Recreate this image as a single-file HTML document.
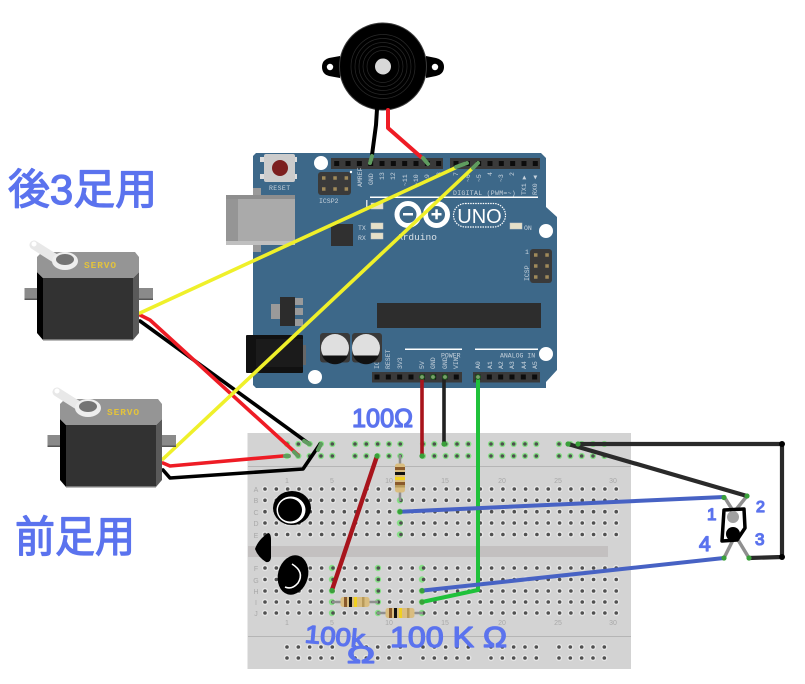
<!DOCTYPE html>
<html><head><meta charset="utf-8"><style>
html,body{margin:0;padding:0;background:#fff;width:805px;height:684px;overflow:hidden}
svg{display:block}
.m{font-family:"Liberation Mono",monospace;font-size:6.5px;fill:#c8d3dd}
.h{font-family:"Liberation Sans","WenQuanYi Zen Hei","Noto Sans CJK JP",sans-serif;fill:#5b73ee;stroke:#5b73ee;stroke-width:1.3;stroke-linejoin:round}
.b{font-family:"Liberation Sans",sans-serif;font-size:7px;fill:#a8a8a8}
</style></head><body>
<svg width="805" height="684" viewBox="0 0 805 684" xmlns="http://www.w3.org/2000/svg" fill="none">
<defs>
<g id="servo">
<rect x="24.5" y="288" width="128.5" height="12" fill="#8a8a8a"/><rect x="24.5" y="298.5" width="128.5" height="1.5" fill="#555"/>
<polygon points="37,272 43,278 43,340 37,333" fill="#000"/>
<polygon points="133,278 139,272 139,333 133,340" fill="#5a5a5a"/>
<rect x="43" y="278" width="90" height="62" fill="#323232"/><rect x="43" y="339" width="90" height="1.5" fill="#777"/>
<polygon points="37,257 42,252 135,252 139,257 139,272 133,278 43,278 37,272" fill="#959595"/>
<path d="M34,245 L64,264" stroke="#e8e8e8" stroke-width="9" stroke-linecap="round"/>
<circle cx="34" cy="244" r="2.5" fill="#fff"/>
<ellipse cx="65" cy="261" rx="13" ry="9" fill="#eee"/>
<ellipse cx="65" cy="259.5" rx="9" ry="5.5" fill="#747474"/>
<text x="84" y="268" font-family="Liberation Mono,monospace" font-weight="700" font-size="9.5" letter-spacing="0.9" fill="#e3c33c">SERVO</text>
</g>
<g id="res">
<line x1="-23" y1="0" x2="23" y2="0" stroke="#8f8f8f" stroke-width="2.5"/>
<rect x="-14.5" y="-5" width="29" height="10" rx="2.5" fill="#d9bd80"/>
<rect x="-11" y="-5" width="3" height="10" fill="#8a5a2b"/><rect x="-6" y="-5" width="3" height="10" fill="#111"/>
<rect x="-1" y="-5" width="3" height="10" fill="#f0d020"/><rect x="7" y="-5" width="2.5" height="10" fill="#b89a5a"/>
</g>
</defs>

<!-- buzzer -->
<path d="M340,56 L329,58 Q322,60 322,67 Q322,74 329,76 L340,78 Z" fill="#000"/>
<path d="M426,56 L436,58 Q444,60 444,67 Q444,74 436,76 L426,78 Z" fill="#000"/>
<circle cx="330" cy="67" r="3.2" fill="#fff"/><circle cx="435" cy="67" r="3.2" fill="#fff"/>
<circle cx="383" cy="66.5" r="43.5" fill="#000" stroke="#3a3a3a" stroke-width="1"/>
<g stroke="#2a2a2a" stroke-width="0.7"><circle cx="383" cy="66.5" r="16"/><circle cx="383" cy="66.5" r="20"/><circle cx="383" cy="66.5" r="24"/><circle cx="383" cy="66.5" r="28"/><circle cx="383" cy="66.5" r="32"/></g>
<circle cx="383" cy="66.5" r="8" fill="#d8d8d8"/>

<!-- arduino -->
<polygon points="256,153 541,153 546,158 546,207 557,217 557,370 546,382 546,388 256,388 253,385 253,156" fill="#3d6889"/>
<rect x="253" y="188" width="8" height="8" fill="#9a9a9a"/><rect x="253" y="244" width="8" height="8" fill="#9a9a9a"/>
<rect x="226" y="195" width="69" height="50" fill="#aaa"/><rect x="226" y="195" width="12" height="50" fill="#959595"/><rect x="226" y="195" width="69" height="4" fill="#8e8e8e"/><rect x="226" y="241" width="69" height="4" fill="#c0c0c0"/>
<rect x="260" y="157" width="37" height="5" fill="#ddd"/><rect x="260" y="174" width="37" height="5" fill="#ddd"/>
<rect x="264" y="154" width="31" height="28" rx="2" fill="#ccc"/>
<circle cx="280" cy="168" r="8" fill="#7c1f1f"/>
<text x="269" y="190" class="m" letter-spacing=".4">RESET</text>
<circle cx="321" cy="163" r="7" fill="#fff"/><circle cx="546" cy="231" r="7" fill="#fff"/><circle cx="315" cy="377" r="7" fill="#fff"/><circle cx="546" cy="354" r="7" fill="#fff"/>

<!-- headers -->
<rect x="331" y="158" width="112" height="11" fill="#3a3a3a"/><rect x="450" y="158" width="90" height="11" fill="#3a3a3a"/>
<rect x="372" y="372" width="90" height="10.5" fill="#3a3a3a"/><rect x="473" y="372" width="67" height="10.5" fill="#3a3a3a"/>
<g stroke="#0c0c0c" stroke-width="5" stroke-dasharray="5 6.33">
<line x1="334.2" y1="163.5" x2="442" y2="163.5"/><line x1="453.5" y1="163.5" x2="538" y2="163.5"/>
<line x1="374.5" y1="377" x2="460" y2="377"/><line x1="475.5" y1="377" x2="538" y2="377"/>
</g>
<!-- ICSP -->
<rect x="318" y="172" width="33" height="23" rx="3" fill="#3a3a3a"/>
<g stroke="#a08a5a" stroke-width="3.5" stroke-dasharray="3.5 7.8"><line x1="322" y1="178" x2="350" y2="178"/><line x1="322" y1="189" x2="350" y2="189"/></g>
<circle cx="351" cy="172" r="1.2" fill="#fff"/>
<text x="319" y="203" class="m" font-size="7">ICSP2</text>
<rect x="530" y="249" width="22" height="34" rx="3" fill="#3a3a3a"/>
<g stroke="#a08a5a" stroke-width="3.5" stroke-dasharray="3.5 7.8"><line x1="534" y1="255" x2="550" y2="255"/><line x1="534" y1="266" x2="550" y2="266"/><line x1="534" y1="277" x2="550" y2="277"/></g>
<text x="525" y="254" class="m">1</text>
<text transform="translate(529,281) rotate(-90)" class="m">ICSP</text>

<!-- top labels -->
<g class="m" text-anchor="start">
<text transform="translate(362,187) rotate(-90)">AMREF</text>
<text transform="translate(373,185) rotate(-90)">GND</text>
<text transform="translate(384,180) rotate(-90)">13</text>
<text transform="translate(395,180) rotate(-90)">12</text>
<text transform="translate(407,186) rotate(-90)">~11</text>
<text transform="translate(418,186) rotate(-90)">~10</text>
<text transform="translate(429,182) rotate(-90)">~9</text>
<text transform="translate(441,176) rotate(-90)">8</text>
<text transform="translate(458,176) rotate(-90)">7</text>
<text transform="translate(470,182) rotate(-90)">~6</text>
<text transform="translate(481,182) rotate(-90)">~5</text>
<text transform="translate(492,176) rotate(-90)">4</text>
<text transform="translate(503,182) rotate(-90)">~3</text>
<text transform="translate(514,176) rotate(-90)">2</text>
<text transform="translate(526,195) rotate(-90)">TX1 ▶</text>
<text transform="translate(537,195) rotate(-90)">RX0 ◀</text>
<text transform="translate(390,369) rotate(-90)">RESET</text>
<text transform="translate(379,369) rotate(-90)">IOREF</text>
<text transform="translate(402,369) rotate(-90)">3V3</text>
<text transform="translate(424,369) rotate(-90)">5V</text>
<text transform="translate(435,369) rotate(-90)">GND</text>
<text transform="translate(447,369) rotate(-90)">GND</text>
<text transform="translate(458,369) rotate(-90)">VIN</text>
<text transform="translate(480,369) rotate(-90)">A0</text>
<text transform="translate(492,369) rotate(-90)">A1</text>
<text transform="translate(503,369) rotate(-90)">A2</text>
<text transform="translate(514,369) rotate(-90)">A3</text>
<text transform="translate(526,369) rotate(-90)">A4</text>
<text transform="translate(537,369) rotate(-90)">A5</text>
</g>
<text x="453" y="195" class="m" letter-spacing=".3">DIGITAL (PWM=~)</text>
<rect x="370" y="196.5" width="168" height="1.5" fill="#fff"/>
<rect x="405" y="348.5" width="57" height="1.5" fill="#fff"/><rect x="475" y="348.5" width="63" height="1.5" fill="#fff"/>
<text x="441" y="357.5" class="m" font-size="7">POWER</text>
<text x="500" y="357.5" class="m" font-size="7">ANALOG IN</text>

<!-- leds -->
<rect x="366" y="200" width="1.5" height="8" fill="#d5dde3"/>
<rect x="371" y="203" width="12" height="6" fill="#e6e0c8" stroke="#c9c9c9" stroke-width=".5"/>
<rect x="371" y="223" width="12" height="6" fill="#e6e0c8" stroke="#c9c9c9" stroke-width=".5"/>
<rect x="371" y="233" width="12" height="6" fill="#e6e0c8" stroke="#c9c9c9" stroke-width=".5"/>
<rect x="510" y="223" width="12" height="6" fill="#e6e0c8" stroke="#c9c9c9" stroke-width=".5"/>
<text x="358" y="230" class="m" font-size="7.5">TX</text><text x="358" y="240" class="m" font-size="7.5">RX</text>
<text x="524" y="230" class="m" font-size="7.5">ON</text>
<!-- logo -->
<g stroke="#fff" stroke-width="5"><circle cx="408" cy="214.5" r="11"/><circle cx="436.5" cy="214.5" r="11"/></g>
<rect x="403" y="213" width="10" height="2.5" fill="#fff"/><rect x="431.5" y="213" width="10" height="2.5" fill="#fff"/><rect x="435.3" y="209.3" width="2.5" height="10" fill="#fff"/>
<rect x="453.5" y="203.5" width="52" height="23.5" rx="11.7" stroke="#fff" stroke-width="1.2" stroke-dasharray="1.5 1"/>
<text x="479.5" y="223" text-anchor="middle" font-family="Liberation Sans,sans-serif" font-size="20" fill="#fff">UNO</text>
<text x="397" y="240" font-family="Liberation Mono,monospace" font-size="9.5" fill="#d8e0e6">Arduino</text>
<!-- parts -->
<rect x="331" y="224" width="22" height="22" fill="#303030"/>
<rect x="295" y="298" width="8" height="7" fill="#9a9a9a"/><rect x="295" y="308" width="8" height="7" fill="#9a9a9a"/><rect x="295" y="319" width="8" height="7" fill="#9a9a9a"/>
<rect x="271" y="304" width="10" height="15" fill="#9a9a9a"/>
<rect x="280" y="297" width="15" height="29" fill="#2c2c2c"/>
<rect x="377" y="303" width="164" height="25" fill="#2d2d2d"/>
<rect x="246" y="335" width="57" height="38" rx="1" fill="#111"/><rect x="256" y="339" width="47" height="28" fill="#1b1b1b"/><rect x="303" y="345" width="3" height="20" fill="#666"/>
<rect x="320" y="333" width="30" height="29.5" rx="3" fill="#3a3a3a"/><rect x="352" y="333" width="30" height="29.5" rx="3" fill="#3a3a3a"/>
<circle cx="335" cy="348" r="14" fill="#dfdfdf"/><circle cx="366" cy="348" r="14" fill="#dfdfdf"/>
<path d="M322,355.5 A14,14 0 0 0 348,355.5 Z" fill="#111"/><path d="M353,355.5 A14,14 0 0 0 379,355.5 Z" fill="#111"/>

<!-- breadboard -->
<rect x="247.5" y="433" width="383.5" height="236" fill="#d3d3d3"/>
<rect x="248" y="466" width="383" height="1" fill="#b5b5b5"/>
<rect x="248" y="636" width="383" height="1" fill="#b5b5b5"/>
<rect x="248" y="546" width="360" height="11" fill="#c3c0c0"/>
<g stroke-linecap="round" stroke-dasharray="0 11.33">
<g stroke="#86df86" stroke-width="6.2">
<line x1="287" y1="444" x2="333" y2="444"/><line x1="355" y1="444" x2="401" y2="444"/><line x1="423" y1="444" x2="469" y2="444"/><line x1="491" y1="444" x2="537" y2="444"/><line x1="559" y1="444" x2="605" y2="444"/>
<line x1="287" y1="456" x2="333" y2="456"/><line x1="355" y1="456" x2="401" y2="456"/><line x1="423" y1="456" x2="469" y2="456"/><line x1="491" y1="456" x2="537" y2="456"/><line x1="559" y1="456" x2="605" y2="456"/>
</g>
<g stroke="#e6e6e6" stroke-width="6.2">
<line x1="265" y1="489" x2="617" y2="489"/><line x1="265" y1="500.3" x2="617" y2="500.3"/><line x1="265" y1="511.7" x2="617" y2="511.7"/><line x1="265" y1="523" x2="617" y2="523"/><line x1="265" y1="534.5" x2="617" y2="534.5"/>
<line x1="265" y1="568" x2="617" y2="568"/><line x1="265" y1="579.5" x2="617" y2="579.5"/><line x1="265" y1="591" x2="617" y2="591"/><line x1="265" y1="602" x2="617" y2="602"/><line x1="265" y1="613" x2="617" y2="613"/>
<line x1="287" y1="647" x2="333" y2="647"/><line x1="355" y1="647" x2="401" y2="647"/><line x1="423" y1="647" x2="469" y2="647"/><line x1="491" y1="647" x2="537" y2="647"/><line x1="559" y1="647" x2="605" y2="647"/>
<line x1="287" y1="658" x2="333" y2="658"/><line x1="355" y1="658" x2="401" y2="658"/><line x1="423" y1="658" x2="469" y2="658"/><line x1="491" y1="658" x2="537" y2="658"/><line x1="559" y1="658" x2="605" y2="658"/>
</g>
</g>
<g fill="#86df86">
<circle cx="400" cy="489" r="3.2"/><circle cx="400" cy="500.3" r="3.2"/><circle cx="400" cy="511.7" r="3.2"/><circle cx="400" cy="523" r="3.2"/><circle cx="400" cy="534.5" r="3.2"/>
<circle cx="332" cy="568" r="3.2"/><circle cx="332" cy="579.5" r="3.2"/><circle cx="332" cy="591" r="3.2"/><circle cx="332" cy="602" r="3.2"/><circle cx="332" cy="613" r="3.2"/>
<circle cx="378" cy="568" r="3.2"/><circle cx="378" cy="579.5" r="3.2"/><circle cx="378" cy="591" r="3.2"/><circle cx="378" cy="602" r="3.2"/><circle cx="378" cy="613" r="3.2"/>
<circle cx="422" cy="568" r="3.2"/><circle cx="422" cy="579.5" r="3.2"/><circle cx="422" cy="591" r="3.2"/><circle cx="422" cy="602" r="3.2"/><circle cx="422" cy="613" r="3.2"/>
</g>
<g stroke-linecap="round" stroke-dasharray="0 11.33" stroke="#505050" stroke-width="3.6">
<line x1="287" y1="444" x2="333" y2="444"/><line x1="355" y1="444" x2="401" y2="444"/><line x1="423" y1="444" x2="469" y2="444"/><line x1="491" y1="444" x2="537" y2="444"/><line x1="559" y1="444" x2="605" y2="444"/>
<line x1="287" y1="456" x2="333" y2="456"/><line x1="355" y1="456" x2="401" y2="456"/><line x1="423" y1="456" x2="469" y2="456"/><line x1="491" y1="456" x2="537" y2="456"/><line x1="559" y1="456" x2="605" y2="456"/>
<line x1="265" y1="489" x2="617" y2="489"/><line x1="265" y1="500.3" x2="617" y2="500.3"/><line x1="265" y1="511.7" x2="617" y2="511.7"/><line x1="265" y1="523" x2="617" y2="523"/><line x1="265" y1="534.5" x2="617" y2="534.5"/>
<line x1="265" y1="568" x2="617" y2="568"/><line x1="265" y1="579.5" x2="617" y2="579.5"/><line x1="265" y1="591" x2="617" y2="591"/><line x1="265" y1="602" x2="617" y2="602"/><line x1="265" y1="613" x2="617" y2="613"/>
<line x1="287" y1="647" x2="333" y2="647"/><line x1="355" y1="647" x2="401" y2="647"/><line x1="423" y1="647" x2="469" y2="647"/><line x1="491" y1="647" x2="537" y2="647"/><line x1="559" y1="647" x2="605" y2="647"/>
<line x1="287" y1="658" x2="333" y2="658"/><line x1="355" y1="658" x2="401" y2="658"/><line x1="423" y1="658" x2="469" y2="658"/><line x1="491" y1="658" x2="537" y2="658"/><line x1="559" y1="658" x2="605" y2="658"/>
</g>
<g class="b" text-anchor="middle">
<text x="287" y="483">1</text><text x="332" y="483">5</text><text x="389" y="483">10</text><text x="445" y="483">15</text><text x="502" y="483">20</text><text x="558" y="483">25</text><text x="613" y="483">30</text>
<text x="287" y="625">1</text><text x="332" y="625">5</text><text x="389" y="625">10</text><text x="445" y="625">15</text><text x="502" y="625">20</text><text x="558" y="625">25</text><text x="613" y="625">30</text>
<text x="256" y="492">A</text><text x="256" y="503">B</text><text x="256" y="515">C</text><text x="256" y="526">D</text><text x="256" y="538">E</text>
<text x="256" y="571">F</text><text x="256" y="583">G</text><text x="256" y="594">H</text><text x="256" y="605">I</text><text x="256" y="616">J</text>
</g>

<!-- resistors -->
<g transform="translate(400,478) rotate(-90) scale(-1,1)"><use href="#res"/></g>
<rect x="395" y="482" width="10" height="3" fill="#8a5a2b"/>
<use href="#res" transform="translate(355,602)"/>
<use href="#res" transform="translate(400,613)"/>

<!-- photo interrupter -->
<g stroke="#8f8f8f" stroke-width="3.5"><line x1="725" y1="498" x2="740" y2="522"/><line x1="747" y1="496" x2="726" y2="522"/><line x1="749" y1="558" x2="732" y2="530"/><line x1="724" y1="558" x2="738" y2="530"/></g>
<polygon points="724,510 744,509 745,528 737,540 722,541" fill="#fff" stroke="#000" stroke-width="3.5" stroke-linejoin="round"/>
<circle cx="733" cy="517" r="6" fill="#a0a0a0"/>
<circle cx="733" cy="534" r="7" fill="#000"/>

<!-- wires -->
<g stroke-linecap="round" stroke-linejoin="round">
<path d="M377,109 L376,125 L372,155" stroke="#000" stroke-width="4"/>
<path d="M388,110 L388,128 L421,157" stroke="#ee1c25" stroke-width="4"/>
<path d="M422,378 V456" stroke="#a8141c" stroke-width="3.6"/>
<path d="M444,378 V444" stroke="#222" stroke-width="3.6"/>
<path d="M478,378 V590 L422,602" stroke="#1fc13a" stroke-width="4"/>
<path d="M377,456 L332,590" stroke="#a8141c" stroke-width="4.4"/>
<path d="M400,511.7 L724,497" stroke="#4762c4" stroke-width="4"/>
<path d="M422,590.6 L724,558" stroke="#4762c4" stroke-width="4"/>
<path d="M568,444 L747,496" stroke="#2a2a2a" stroke-width="4.2"/>
<path d="M578,444 H782 V557 L749,558" stroke="#2a2a2a" stroke-width="4.2"/>
<path d="M140,321 L308,443" stroke="#000" stroke-width="3.6"/>
<path d="M140,315 L150,320 L298,455" stroke="#ee1c25" stroke-width="3.6"/>
<path d="M163,470 L170,478 L303,469 L320,444" stroke="#000" stroke-width="3.6"/>
<path d="M163,463 L170,466 L283,456" stroke="#ee1c25" stroke-width="3.6"/>
<path d="M140,313 L455,168" stroke="#eff02a" stroke-width="3.6"/>
<path d="M163,459 L477,164" stroke="#eff02a" stroke-width="3.6"/>
</g>
<circle cx="782" cy="444" r="3" fill="#000"/><circle cx="782" cy="557" r="3" fill="#000"/>
<g stroke="#5f9c5f" stroke-width="4" stroke-linecap="round">
<line x1="372" y1="156" x2="370" y2="163"/><line x1="423" y1="158" x2="428" y2="164"/>
<line x1="456" y1="167" x2="467" y2="163"/><line x1="473" y1="168" x2="478" y2="163"/>
<line x1="285" y1="456" x2="289" y2="456"/><line x1="294" y1="452" x2="298" y2="456"/><line x1="304" y1="441" x2="309" y2="444"/><line x1="318" y1="450" x2="321" y2="444"/>
</g>
<g fill="#7aa06a" stroke="#1c5a1c" stroke-width="1"><circle cx="422" cy="377" r="2.4"/><circle cx="433" cy="377" r="2.4"/><circle cx="445" cy="377" r="2.4"/><circle cx="478" cy="377" r="2.4"/></g>
<g fill="#3aa03a"><circle cx="422" cy="456" r="2.6"/><circle cx="444" cy="444" r="2.6"/><circle cx="377" cy="456" r="2.6"/><circle cx="332" cy="590.5" r="2.6"/><circle cx="400" cy="511.7" r="2.6"/><circle cx="422" cy="590.6" r="2.6"/><circle cx="422" cy="602" r="2.6"/><circle cx="724" cy="497.5" r="2.6"/><circle cx="747" cy="496" r="2.6"/><circle cx="724" cy="558" r="2.6"/><circle cx="749" cy="558" r="2.6"/><circle cx="568" cy="444" r="2.6"/><circle cx="578" cy="444" r="2.6"/></g>

<!-- servos -->
<use href="#servo"/>
<use href="#servo" transform="translate(23,147)"/>

<!-- ink marks -->
<ellipse cx="292" cy="508" rx="19" ry="17" fill="#000"/>
<ellipse cx="291" cy="510" rx="14.5" ry="13.5" fill="#fff"/>
<ellipse cx="290" cy="510" rx="12" ry="11.5" fill="#000"/>
<ellipse cx="293" cy="575" rx="15" ry="20" transform="rotate(15 293 575)" fill="#000"/>
<path d="M292,564 Q305,572 298,583 Q292,590 285,587" stroke="#fff" stroke-width="1.6"/>
<path d="M255,549 Q258,540 268,533 Q271,533 271,540 L271,558 Q270,563 266,562 Q258,557 255,549 Z" fill="#000"/>

<!-- handwriting -->
<g class="h">
<text x="8" y="204" font-size="42" textLength="149" lengthAdjust="spacingAndGlyphs">後3足用</text>
<text x="15" y="552" font-size="43" textLength="120" lengthAdjust="spacingAndGlyphs">前足用</text>
<text x="352" y="427" font-size="26" textLength="61" lengthAdjust="spacingAndGlyphs">100Ω</text>
<text x="305" y="645" font-size="25" textLength="60" lengthAdjust="spacingAndGlyphs" transform="rotate(5 335 635)">100k</text>
<text x="347" y="663" font-size="24" textLength="28" lengthAdjust="spacingAndGlyphs">Ω</text>
<text x="390" y="647" font-size="29" textLength="117" lengthAdjust="spacingAndGlyphs">100 K Ω</text>
<text x="707" y="520" font-size="17">1</text>
<text x="756" y="512" font-size="16">2</text>
<text x="755" y="545" font-size="17">3</text>
<text x="699" y="551" font-size="21">4</text>
</g>
</svg>
</body></html>
